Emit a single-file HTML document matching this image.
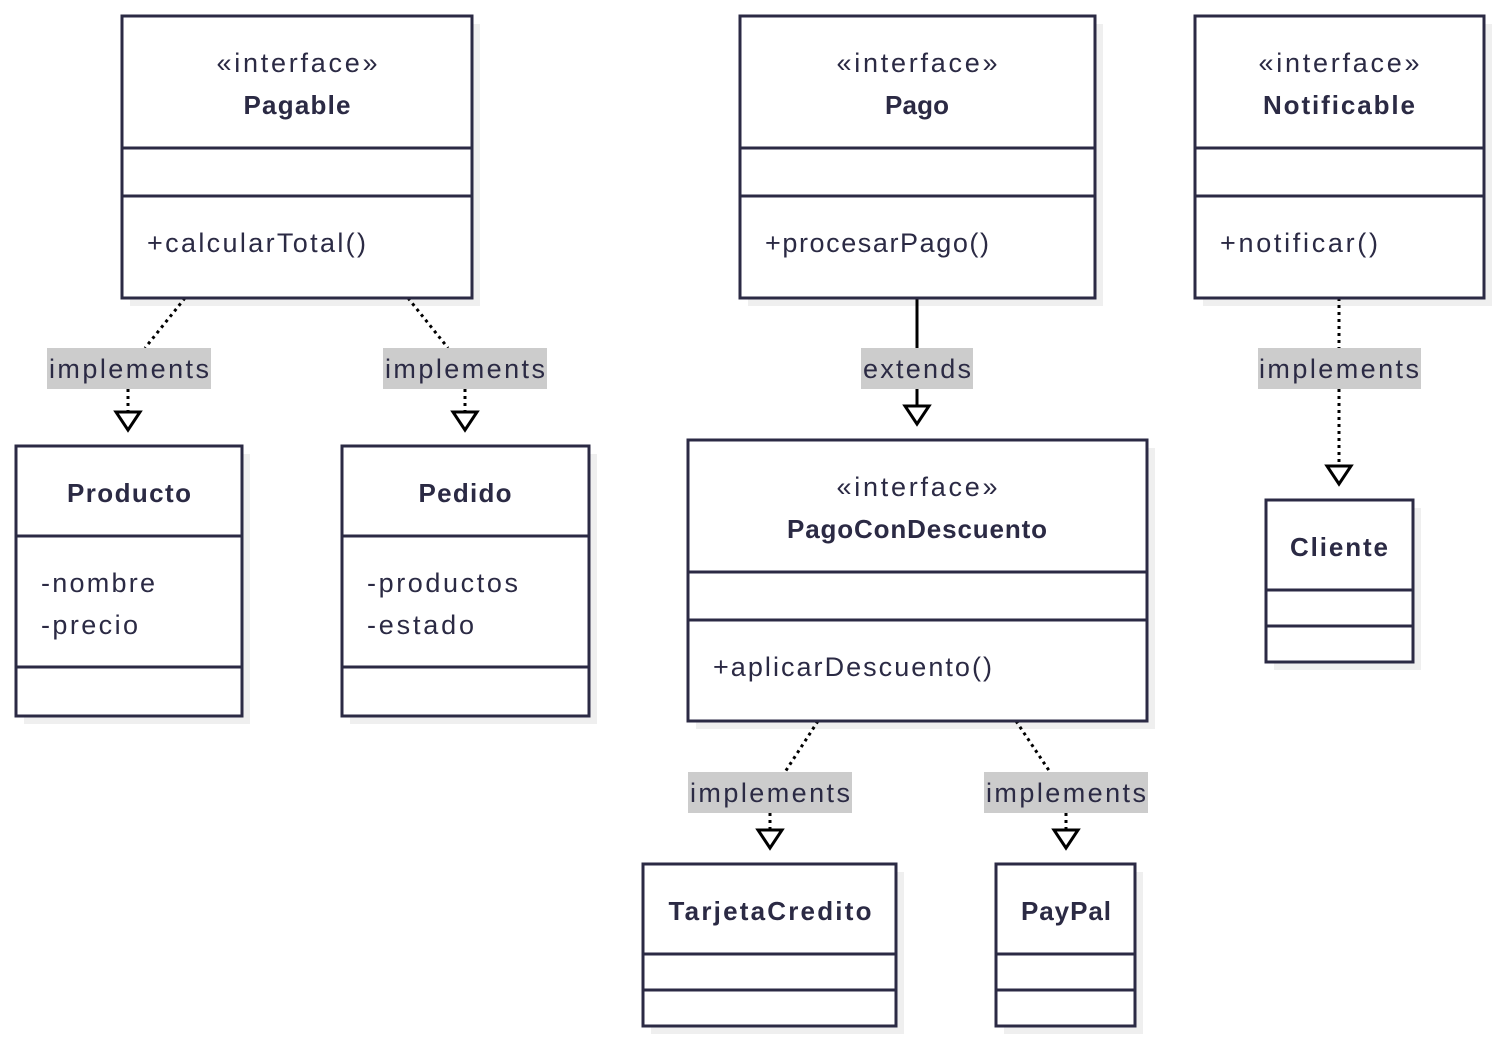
<!DOCTYPE html>
<html><head><meta charset="utf-8"><style>
html,body{margin:0;padding:0;background:#fff;}
svg{display:block;}
text{font-family:"Liberation Sans",sans-serif;fill:#2b2a44;font-size:27px;}
.b{font-weight:bold;font-size:26px;}
.box{fill:#fff;stroke:#2b2a44;stroke-width:3;}
.sh{fill:#efefef;}
.dv{stroke:#2b2a44;stroke-width:3;}
.dot{stroke:#000;stroke-width:3;stroke-dasharray:3 4;fill:none;}
.sol{stroke:#000;stroke-width:3;fill:none;}
.lb{fill:#cccccc;}
.tri{fill:#fff;stroke:#000;stroke-width:3;}
</style></head><body>
<svg width="1500" height="1042" viewBox="0 0 1500 1042">
<rect class="sh" x="130" y="24" width="350" height="282"/>
<rect class="sh" x="748" y="24" width="355" height="282"/>
<rect class="sh" x="1203" y="24" width="289" height="282"/>
<rect class="sh" x="24" y="454" width="226" height="270"/>
<rect class="sh" x="350" y="454" width="247" height="270"/>
<rect class="sh" x="696" y="448" width="459" height="281"/>
<rect class="sh" x="1274" y="508" width="147" height="162"/>
<rect class="sh" x="651" y="872" width="253" height="162"/>
<rect class="sh" x="1004" y="872" width="139" height="162"/>

<line class="dot" x1="185" y1="298" x2="145" y2="348"/>
<line class="dot" x1="128" y1="389" x2="128" y2="412"/>
<rect class="lb" x="47" y="348" width="164" height="41"/>
<text x="129" y="378" text-anchor="middle" textLength="160">implements</text>
<polygon class="tri" points="116,412 140,412 128,430"/>

<line class="dot" x1="408" y1="298" x2="448" y2="348"/>
<line class="dot" x1="465" y1="389" x2="465" y2="412"/>
<rect class="lb" x="383" y="348" width="164" height="41"/>
<text x="465" y="378" text-anchor="middle" textLength="160">implements</text>
<polygon class="tri" points="453,412 477,412 465,430"/>

<line class="sol" x1="917" y1="298" x2="917" y2="406"/>
<rect class="lb" x="861" y="348" width="112" height="41"/>
<text x="917" y="378" text-anchor="middle" textLength="108">extends</text>
<polygon class="tri" points="905,406 929,406 917,424"/>

<line class="dot" x1="1339" y1="298" x2="1339" y2="466"/>
<rect class="lb" x="1258" y="348" width="163" height="41"/>
<text x="1339" y="378" text-anchor="middle" textLength="160">implements</text>
<polygon class="tri" points="1327,466 1351,466 1339,484"/>

<line class="dot" x1="818" y1="721" x2="785" y2="772"/>
<line class="dot" x1="770" y1="813" x2="770" y2="830"/>
<rect class="lb" x="688" y="772" width="164" height="41"/>
<text x="770" y="802" text-anchor="middle" textLength="160">implements</text>
<polygon class="tri" points="758,830 782,830 770,848"/>

<line class="dot" x1="1016" y1="721" x2="1050" y2="772"/>
<line class="dot" x1="1066" y1="813" x2="1066" y2="830"/>
<rect class="lb" x="984" y="772" width="164" height="41"/>
<text x="1066" y="802" text-anchor="middle" textLength="160">implements</text>
<polygon class="tri" points="1054,830 1078,830 1066,848"/>

<rect class="box" x="122" y="16" width="350" height="282"/>
<line class="dv" x1="122" y1="148" x2="472" y2="148"/>
<line class="dv" x1="122" y1="196" x2="472" y2="196"/>
<text x="297" y="72" text-anchor="middle" textLength="161">«interface»</text>
<text x="297" y="114" text-anchor="middle" class="b" textLength="107">Pagable</text>
<text x="147" y="252" textLength="219">+calcularTotal()</text>

<rect class="box" x="740" y="16" width="355" height="282"/>
<line class="dv" x1="740" y1="148" x2="1095" y2="148"/>
<line class="dv" x1="740" y1="196" x2="1095" y2="196"/>
<text x="917" y="72" text-anchor="middle" textLength="161">«interface»</text>
<text x="917" y="114" text-anchor="middle" class="b" textLength="64">Pago</text>
<text x="765" y="252" textLength="224">+procesarPago()</text>

<rect class="box" x="1195" y="16" width="289" height="282"/>
<line class="dv" x1="1195" y1="148" x2="1484" y2="148"/>
<line class="dv" x1="1195" y1="196" x2="1484" y2="196"/>
<text x="1339" y="72" text-anchor="middle" textLength="161">«interface»</text>
<text x="1339" y="114" text-anchor="middle" class="b" textLength="152">Notificable</text>
<text x="1220" y="252" textLength="158">+notificar()</text>

<rect class="box" x="16" y="446" width="226" height="270"/>
<line class="dv" x1="16" y1="536" x2="242" y2="536"/>
<line class="dv" x1="16" y1="667" x2="242" y2="667"/>
<text x="129" y="502" text-anchor="middle" class="b" textLength="124">Producto</text>
<text x="41" y="592" textLength="114">-nombre</text>
<text x="41" y="634" textLength="97">-precio</text>

<rect class="box" x="342" y="446" width="247" height="270"/>
<line class="dv" x1="342" y1="536" x2="589" y2="536"/>
<line class="dv" x1="342" y1="667" x2="589" y2="667"/>
<text x="465" y="502" text-anchor="middle" class="b" textLength="93">Pedido</text>
<text x="367" y="592" textLength="151">-productos</text>
<text x="367" y="634" textLength="107">-estado</text>

<rect class="box" x="688" y="440" width="459" height="281"/>
<line class="dv" x1="688" y1="572" x2="1147" y2="572"/>
<line class="dv" x1="688" y1="620" x2="1147" y2="620"/>
<text x="917" y="496" text-anchor="middle" textLength="161">«interface»</text>
<text x="917" y="538" text-anchor="middle" class="b" textLength="260">PagoConDescuento</text>
<text x="713" y="676" textLength="279">+aplicarDescuento()</text>

<rect class="box" x="1266" y="500" width="147" height="162"/>
<line class="dv" x1="1266" y1="590" x2="1413" y2="590"/>
<line class="dv" x1="1266" y1="626" x2="1413" y2="626"/>
<text x="1339" y="556" text-anchor="middle" class="b" textLength="98">Cliente</text>

<rect class="box" x="643" y="864" width="253" height="162"/>
<line class="dv" x1="643" y1="954" x2="896" y2="954"/>
<line class="dv" x1="643" y1="990" x2="896" y2="990"/>
<text x="770" y="920" text-anchor="middle" class="b" textLength="203">TarjetaCredito</text>

<rect class="box" x="996" y="864" width="139" height="162"/>
<line class="dv" x1="996" y1="954" x2="1135" y2="954"/>
<line class="dv" x1="996" y1="990" x2="1135" y2="990"/>
<text x="1066" y="920" text-anchor="middle" class="b" textLength="90">PayPal</text>
</svg>
</body></html>
